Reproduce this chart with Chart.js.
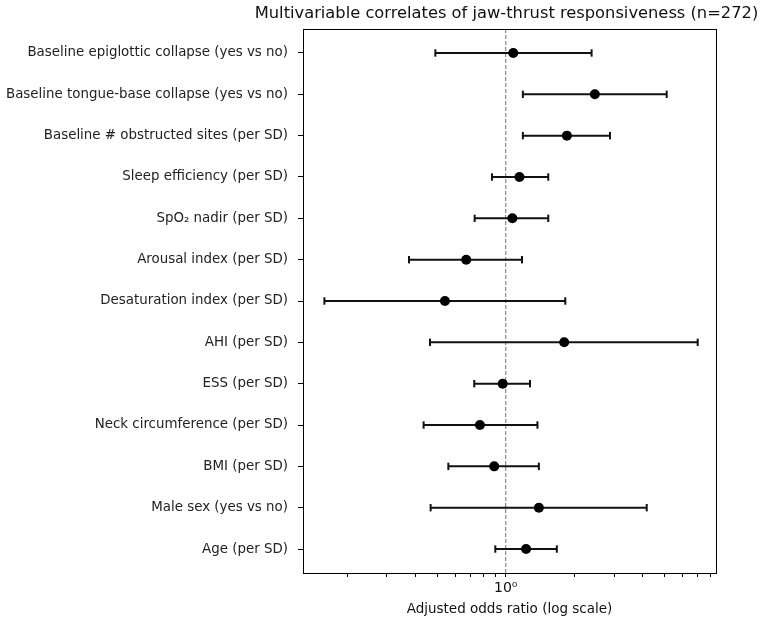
<!DOCTYPE html>
<html>
<head>
<meta charset="utf-8">
<script src="https://cdn.jsdelivr.net/npm/chart.js@4.4.0/dist/chart.umd.min.js"></script>
<style>
  body { margin: 0; background: #fff; }
</style>
</head>
<body>
<canvas id="grafico_forest" width="766" height="621"></canvas>
<script>
// variabili, dall'alto verso il basso
var etichette = [
  'Baseline epiglottic collapse (yes vs no)',
  'Baseline tongue-base collapse (yes vs no)',
  'Baseline # obstructed sites (per SD)',
  'Sleep efficiency (per SD)',
  'SpO₂ nadir (per SD)',
  'Arousal index (per SD)',
  'Desaturation index (per SD)',
  'AHI (per SD)',
  'ESS (per SD)',
  'Neck circumference (per SD)',
  'BMI (per SD)',
  'Male sex (yes vs no)',
  'Age (per SD)'
];
var odds_ratio = [1.08, 2.47, 1.86, 1.15, 1.07, 0.67, 0.54, 1.81, 0.97, 0.77, 0.89, 1.40, 1.23];
var ic_basso   = [0.49, 1.19, 1.19, 0.87, 0.73, 0.375, 0.159, 0.464, 0.727, 0.435, 0.559, 0.467, 0.90];
var ic_alto    = [2.39, 5.12, 2.88, 1.54, 1.54, 1.18, 1.83, 7.01, 1.28, 1.38, 1.40, 4.18, 1.68];
var tacche_x = [0.2, 0.3, 0.4, 0.5, 0.6, 0.7, 0.8, 0.9, 1, 2, 3, 4, 5, 6, 7, 8];
var titolo = 'Multivariable correlates of jaw-thrust responsiveness (n=272)';
var y_min = -0.58;
var y_max = 12.58;

Chart.defaults.font.family = 'DejaVu Sans';
Chart.defaults.color = '#222';

var n = etichette.length;

// punti centrali
var punti = [];
for (var i = 0; i < n; i++) {
  punti.push({x: odds_ratio[i], y: n - 1 - i});
}

var datasets = [{
  data: punti,
  showLine: false,
  pointRadius: 5,
  pointHoverRadius: 5,
  pointBackgroundColor: '#000',
  pointBorderColor: '#000',
  pointBorderWidth: 0,
  order: 0
}];

// barre di errore, una per riga, con i "cappelli" come punti a linea verticale
for (var j = 0; j < n; j++) {
  datasets.push({
    data: [{x: ic_basso[j], y: n - 1 - j}, {x: ic_alto[j], y: n - 1 - j}],
    showLine: true,
    borderColor: '#111',
    borderWidth: 2,
    pointStyle: 'line',
    pointRotation: 90,
    pointRadius: 3.7,
    pointHoverRadius: 3.7,
    pointBorderColor: '#111',
    pointBorderWidth: 2,
    order: 1
  });
}

// linea tratteggiata a OR = 1
datasets.push({
  data: [{x: 1, y: y_min}, {x: 1, y: y_max}],
  showLine: true,
  borderColor: '#888',
  borderWidth: 1.2,
  borderDash: [4, 2],
  pointRadius: 0,
  order: 2
});

// cornice del grafico e titolo centrato sull'area dati
var cornice = {
  id: 'cornice',
  afterDraw: function(chart) {
    var a = chart.chartArea;
    var ctx = chart.ctx;
    ctx.save();
    ctx.strokeStyle = '#000';
    ctx.lineWidth = 1;
    ctx.strokeRect(Math.round(a.left) + 0.5, Math.round(a.top) + 0.5,
      Math.round(a.right - a.left), Math.round(a.bottom - a.top));
    ctx.fillStyle = '#111';
    ctx.font = '16.3px "DejaVu Sans"';
    ctx.textAlign = 'center';
    ctx.textBaseline = 'middle';
    ctx.fillText(titolo, (a.left + a.right) / 2 - 3, 14);
    ctx.restore();
  }
};

var grafico = new Chart(document.getElementById('grafico_forest'), {
  type: 'scatter',
  data: { datasets: datasets },
  plugins: [cornice],
  options: {
    responsive: false,
    animation: false,
    devicePixelRatio: 1,
    layout: { padding: { left: 0, right: 50, top: 29, bottom: 0 } },
    plugins: {
      legend: { display: false },
      tooltip: { enabled: false },
      title: { display: false }
    },
    scales: {
      x: {
        type: 'logarithmic',
        min: 0.128,
        max: 8.44,
        afterBuildTicks: function(scale) {
          scale.ticks = tacche_x.map(function(v) { return {value: v}; });
        },
        afterFit: function(scale) { scale.height = 48; },
        grid: { drawOnChartArea: false, tickLength: 4, tickColor: '#000' },
        border: { color: '#000' },
        ticks: {
          autoSkip: false,
          maxRotation: 0,
          padding: 3,
          color: '#111',
          font: { size: 14 },
          callback: function(value) { return value === 1 ? '10⁰' : ''; }
        },
        title: {
          display: true,
          text: 'Adjusted odds ratio (log scale)',
          color: '#111',
          font: { size: 13.5 },
          padding: { top: 0, bottom: 3 }
        }
      },
      y: {
        type: 'linear',
        min: y_min,
        max: y_max,
        afterBuildTicks: function(scale) {
          var t = [];
          for (var k = 0; k < n; k++) t.push({value: k});
          scale.ticks = t;
        },
        afterFit: function(scale) { scale.width = 303; },
        grid: { drawOnChartArea: false, tickLength: 5, tickColor: '#000' },
        border: { color: '#000' },
        ticks: {
          autoSkip: false,
          padding: 10,
          color: '#222',
          font: { size: 13.4 },
          callback: function(value) { return etichette[n - 1 - value]; }
        }
      }
    }
  }
});
</script>
</body>
</html>
